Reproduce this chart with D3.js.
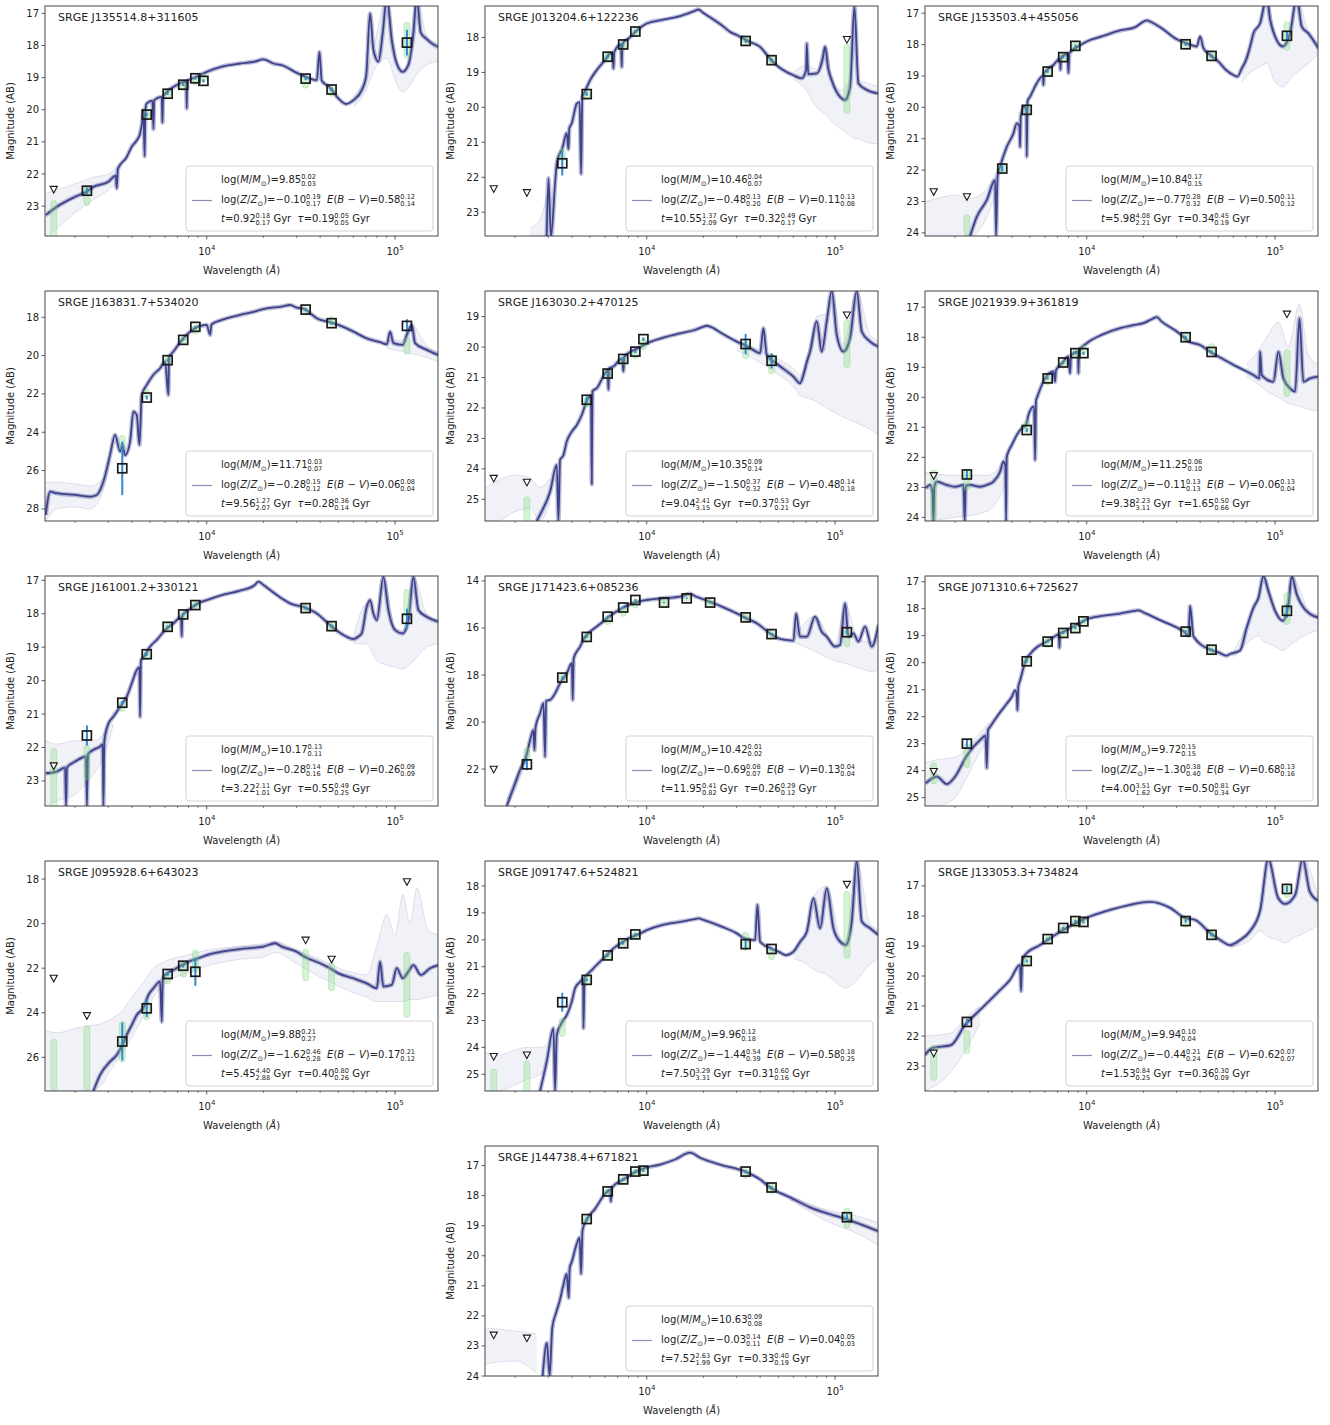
<!DOCTYPE html>
<html><head><meta charset="utf-8">
<script src="https://cdn.jsdelivr.net/npm/d3@7"></script>
<style>
body{margin:0;background:#fff;}
svg text{font-family:"DejaVu Sans",sans-serif;fill:#222;}
</style></head><body>
<svg id="fig" width="1330" height="1425"></svg>
<script>
// ---- source names, axis limits, tick sets ----
const objectNames = ["SRGE J135514.8+311605","SRGE J013204.6+122236","SRGE J153503.4+455056",
  "SRGE J163831.7+534020","SRGE J163030.2+470125","SRGE J021939.9+361819",
  "SRGE J161001.2+330121","SRGE J171423.6+085236","SRGE J071310.6+725627",
  "SRGE J095928.6+643023","SRGE J091747.6+524821","SRGE J133053.3+734824","SRGE J144738.4+671821"];
const wavelengthRange = [1384, 169000];
const yDomains = [[16.77,23.93],[17.1,23.68],[16.77,24.1],[16.63,28.63],[18.16,25.71],[16.46,24.12],
  [16.87,23.75],[13.79,23.57],[16.79,25.31],[17.19,27.51],[17.07,25.62],[16.17,23.83],[16.35,24.0]];
const yTickSets = [[17,18,19,20,21,22,23],[18,19,20,21,22,23],[17,18,19,20,21,22,23,24],
  [18,20,22,24,26,28],[19,20,21,22,23,24,25],[17,18,19,20,21,22,23,24],[17,18,19,20,21,22,23],
  [14,16,18,20,22],[17,18,19,20,21,22,23,24,25],[18,20,22,24,26],[18,19,20,21,22,23,24,25],
  [17,18,19,20,21,22,23],[17,18,19,20,21,22,23,24]];
const xMajorTicks = [1e4, 1e5];
const xMinorTicks = [2e3,3e3,4e3,5e3,6e3,7e3,8e3,9e3,2e4,3e4,4e4,5e4,6e4,7e4,8e4,9e4];

// ---- best-fit parameters: [median, +err, -err] ----
const massFits = [[9.85,0.02,0.03],[10.46,0.04,0.07],[10.84,0.17,0.15],[11.71,0.03,0.07],[10.35,0.09,0.14],[11.25,0.06,0.10],[10.17,0.13,0.11],[10.42,0.01,0.02],[9.72,0.15,0.15],[9.88,0.21,0.27],[9.96,0.12,0.18],[9.94,0.10,0.04],[10.63,0.09,0.08]];
const metalFits = [[-0.10,0.19,0.17],[-0.48,0.13,0.20],[-0.77,0.28,0.32],[-0.28,0.15,0.12],[-1.50,0.37,0.32],[-0.11,0.13,0.13],[-0.28,0.14,0.16],[-0.69,0.08,0.07],[-1.30,0.38,0.40],[-1.62,0.46,0.28],[-1.44,0.54,0.39],[-0.44,0.21,0.24],[-0.03,0.14,0.11]];
const ebvFits = [[0.58,0.12,0.14],[0.11,0.13,0.08],[0.50,0.11,0.12],[0.06,0.08,0.04],[0.48,0.14,0.18],[0.06,0.13,0.04],[0.26,0.09,0.09],[0.13,0.04,0.04],[0.68,0.13,0.16],[0.17,0.21,0.12],[0.58,0.18,0.25],[0.62,0.07,0.07],[0.04,0.05,0.03]];
const ageFits = [[0.92,0.18,0.17],[10.55,1.37,2.09],[5.98,4.08,2.21],[9.56,1.27,2.07],[9.04,2.41,3.15],[9.38,2.23,3.11],[3.22,2.11,1.01],[11.95,0.41,0.82],[4.00,3.51,1.62],[5.45,4.40,2.88],[7.50,3.29,3.31],[1.53,0.84,0.25],[7.52,2.63,1.99]];
const tauFits = [[0.19,0.05,0.05],[0.32,0.49,0.17],[0.34,0.45,0.19],[0.28,0.36,0.14],[0.37,0.53,0.21],[1.65,0.50,0.66],[0.55,0.49,0.25],[0.26,0.29,0.12],[0.50,0.81,0.34],[0.40,0.80,0.26],[0.31,0.60,0.16],[0.36,0.30,0.09],[0.33,0.40,0.19]];

// ---- median model spectra: [wavelength (Å), AB mag] ----
const spec01 = [[1397,23.28],[1598,23.02],[2000,22.71],[2287,22.56],[2502,22.40],[3005,22.24],[3194,22.09],[3290,22.05],[3328,22.45],[3370,21.85],[3760,21.47],[3997,21.15],[4250,20.95],[4426,20.74],[4560,20.3],[4610,20.01],[4680,21.45],[4720,20.0],[4803,19.80],[5150,19.72],[5211,20.6],[5260,19.7],[5770,19.6],[5817,20.4],[5870,19.58],[6008,19.50],[6929,19.23],[7780,19.12],[7831,19.96],[7880,19.1],[7992,19.08],[8995,18.95],[10000,18.82],[12012,18.66],[15031,18.56],[17984,18.50],[19999,18.43],[22590,18.56],[25020,18.61],[30060,18.85],[34960,19.02],[38380,19.08],[39650,18.2],[40800,19.1],[44990,19.30],[50020,19.65],[54940,19.82],[60090,19.70],[66530,19.39],[70150,18.97],[73670,17.0],[76740,18.14],[81560,18.5],[86000,17.6],[90320,16.5],[96010,17.83],[102060,18.56],[109830,18.82],[117700,18.6],[125100,17.62],[130300,16.5],[136900,17.6],[147300,17.8],[159800,17.97],[169900,18.04]];
const spec02 = [[2944,23.7],[3005,22.03],[3100,23.7],[3261,22.17],[3328,21.6],[3466,21.3],[3537,21.22],[3760,20.74],[3838,21.2],[3880,20.6],[3997,20.46],[4250,19.89],[4400,19.85],[4481,21.9],[4550,19.7],[4648,19.60],[5002,19.22],[5428,18.93],[6008,18.65],[6389,18.46],[6600,18.5],[6653,18.89],[6720,18.42],[7300,18.2],[7367,18.84],[7420,18.17],[7992,18.03],[8995,17.77],[10000,17.60],[12012,17.50],[15031,17.39],[17984,17.24],[18807,17.20],[19999,17.30],[25020,17.65],[27700,17.84],[30060,17.93],[34960,18.12],[39980,18.27],[44990,18.60],[50020,18.84],[54940,18.98],[60090,19.08],[66530,19.17],[70150,18.93],[70730,18.17],[72000,19.05],[79930,19.03],[86000,18.6],[88490,18.27],[92000,18.9],[96010,19.23],[106300,19.70],[112999,19.79],[120100,19.41],[126700,17.12],[133000,19.31],[147300,19.50],[169900,19.60]];
const spec03 = [[2402,24.1],[2606,23.49],[2944,22.96],[3261,22.32],[3300,24.1],[3360,22.2],[3466,21.89],[3760,21.26],[4080,20.83],[4250,20.51],[4390,20.6],[4426,21.26],[4460,20.3],[4648,19.98],[4780,20.1],[4803,21.57],[4850,19.8],[5002,19.66],[5428,19.23],[5850,19.0],[5889,19.29],[5930,18.9],[6008,18.86],[6653,18.65],[7218,18.45],[7250,18.8],[7300,18.42],[7396,18.38],[7900,18.3],[7992,18.91],[8080,18.28],[8995,18.06],[10000,17.90],[12012,17.74],[15031,17.55],[17984,17.45],[19999,17.27],[20830,17.23],[22590,17.32],[25020,17.48],[30060,17.83],[33970,17.96],[38380,18.06],[39980,17.74],[41640,18.11],[45180,18.33],[50020,18.54],[54940,18.81],[60090,18.97],[63100,19.02],[66530,18.76],[70150,18.49],[73670,18.06],[76740,17.64],[83240,17.32],[90320,16.5],[94080,17.2],[100000,17.74],[109830,18.06],[120100,17.64],[130300,16.5],[138600,17.43],[150300,17.64],[169900,18.12]];
const spec04 = [[1397,28.31],[1473,27.1],[1598,27.18],[2000,27.27],[2402,27.36],[2606,27.27],[2827,26.57],[3067,25.18],[3261,24.14],[3466,25.0],[3566,24.66],[3685,25.2],[3916,24.49],[4080,22.92],[4250,23.1],[4391,24.66],[4518,22.05],[4803,21.53],[5211,21.0],[5653,20.66],[6008,20.31],[6257,22.05],[6300,20.1],[6653,19.79],[7396,19.18],[7992,18.83],[8995,18.49],[10000,18.40],[10416,18.92],[10600,18.38],[12012,18.14],[15031,17.88],[17984,17.70],[19999,17.57],[25020,17.44],[27700,17.36],[30060,17.50],[33010,17.57],[35390,17.79],[38380,18.05],[45180,18.26],[50020,18.40],[60090,18.75],[70730,19.10],[83240,19.30],[90320,19.41],[94080,18.75],[97990,19.35],[109830,19.44],[115300,18.92],[122600,18.40],[127700,19.35],[147300,19.70],[169900,19.97]];
const spec05 = [[2606,25.71],[2714,25.5],[3067,24.75],[3328,23.87],[3396,25.71],[3466,23.7],[3610,23.55],[3760,23.1],[3997,22.78],[4250,22.56],[4518,22.23],[4823,21.74],[5060,21.6],[5105,24.5],[5150,21.45],[5428,21.35],[6008,20.86],[6200,20.75],[6257,21.4],[6310,20.7],[6653,20.64],[7400,20.37],[7518,20.8],[7600,20.32],[7992,20.2],[8995,20.04],[10000,19.88],[12012,19.71],[15031,19.55],[17984,19.44],[19999,19.33],[20830,19.30],[22590,19.38],[25020,19.55],[30060,19.82],[33010,19.93],[36840,20.10],[39980,20.20],[41640,19.38],[43370,20.25],[50020,20.59],[60090,20.97],[65190,21.19],[67900,20.92],[70730,20.5],[73670,20.15],[79930,19.16],[84950,20.15],[90320,19.16],[96010,18.16],[102060,19.6],[110720,20.15],[120100,19.7],[130300,18.16],[138600,19.49],[153400,19.82],[169900,19.99]];
const spec06 = [[1397,23.03],[1473,22.92],[1520,23.2],[1534,24.12],[1550,23.0],[1598,22.81],[1806,22.92],[2000,22.98],[2214,22.92],[2250,24.12],[2275,22.95],[2402,22.92],[2714,22.98],[2944,22.92],[3194,22.81],[3466,22.48],[3610,22.14],[3700,22.3],[3730,24.12],[3760,22.0],[3838,21.81],[3997,21.59],[4250,21.26],[4518,21.03],[4764,20.92],[4902,20.59],[5250,20.3],[5318,22.09],[5380,20.1],[5428,20.03],[6008,19.37],[6653,19.14],[6790,19.48],[6860,19.1],[7396,18.87],[7992,18.64],[8156,19.2],[8250,18.6],[8995,18.48],[9032,19.2],[9100,18.45],[10000,18.20],[12012,17.92],[15031,17.70],[17984,17.59],[19999,17.53],[22590,17.37],[23530,17.33],[25020,17.48],[30060,17.81],[32740,18.00],[34670,18.14],[39980,18.26],[45180,18.48],[50020,18.64],[60090,18.92],[70730,19.14],[76740,19.26],[82560,19.37],[83240,18.48],[84950,19.26],[97990,19.48],[104160,18.48],[110720,19.37],[120100,19.70],[127700,19.81],[134700,17.37],[141400,19.48],[153400,19.37],[169900,19.31]];
const spec07 = [[1397,22.77],[1598,22.72],[1769,22.6],[1790,23.75],[1810,22.6],[2000,22.42],[2287,22.27],[2310,23.75],[2340,22.2],[2502,22.07],[2714,21.97],[2800,21.9],[2827,23.75],[2860,21.8],[3005,21.28],[3194,21.08],[3466,20.78],[3760,20.48],[3997,20.08],[4250,19.68],[4390,19.6],[4426,21.08],[4470,19.4],[4648,19.28],[5002,18.98],[5428,18.78],[6008,18.49],[6653,18.29],[7300,18.1],[7367,18.68],[7420,18.05],[7992,17.89],[8995,17.69],[10000,17.59],[12012,17.44],[15031,17.31],[17984,17.14],[18807,17.04],[19999,17.14],[25020,17.54],[27700,17.69],[33010,17.81],[38380,17.99],[45180,18.34],[50020,18.54],[54940,18.68],[60090,18.76],[63870,18.68],[66530,18.58],[70730,17.79],[73670,17.59],[76740,17.99],[79930,18.19],[86710,16.9],[92170,17.89],[100000,18.49],[109830,18.59],[117700,18.19],[125100,16.9],[133000,17.89],[147300,18.09],[169900,18.24]];
const spec08 = [[1806,23.57],[1881,23.18],[2000,22.61],[2125,22.04],[2287,21.48],[2402,20.77],[2502,20.34],[2533,21.2],[2570,20.2],[2714,19.63],[2827,19.2],[2885,21.48],[2920,19.1],[3067,19.06],[3261,18.78],[3466,18.35],[3760,17.93],[4000,17.5],[4046,19.06],[4090,17.3],[4426,16.79],[4648,16.44],[5002,16.16],[5428,15.94],[6008,15.66],[6653,15.38],[7396,15.16],[7992,15.02],[8995,14.88],[10000,14.81],[12012,14.74],[15031,14.67],[16987,14.55],[17984,14.64],[19999,14.78],[25020,15.09],[30060,15.38],[33010,15.55],[38380,15.80],[45180,16.23],[50020,16.44],[54940,16.51],[60090,16.54],[62080,15.38],[65190,16.37],[70730,16.37],[78310,15.52],[84950,16.16],[90320,16.37],[100000,16.79],[106300,16.72],[112999,14.95],[117700,16.37],[125100,16.23],[133000,16.58],[144300,15.94],[156600,16.79],[169900,15.87]];
const spec09 = [[1397,24.47],[1598,24.22],[1806,24.5],[2000,24.22],[2287,23.49],[2502,23.12],[2714,22.87],[2900,22.7],[2944,23.9],[2990,22.5],[3067,22.38],[3328,22.01],[3760,21.52],[3997,21.27],[4164,21.03],[4250,21.2],[4285,21.77],[4330,20.9],[4426,20.66],[4744,19.92],[5002,19.68],[5428,19.43],[6008,19.25],[6653,19.06],[7100,18.95],[7159,19.45],[7220,18.9],[7396,18.88],[7992,18.76],[8995,18.57],[10000,18.39],[12012,18.27],[15031,18.18],[17984,18.08],[18807,18.06],[19999,18.14],[25020,18.45],[30060,18.70],[32740,18.85],[34670,19.00],[35390,17.90],[36840,19.02],[45180,19.52],[50020,19.62],[54940,19.74],[57700,19.68],[65190,19.55],[70730,18.70],[76740,17.96],[81560,17.6],[86710,16.8],[92170,17.35],[100000,18.08],[109830,18.45],[117700,17.85],[122600,16.8],[130300,17.47],[141400,17.96],[153400,18.2],[169900,18.33]];
const spec10 = [[2502,27.51],[2714,26.79],[3067,26.19],[3328,25.89],[3566,25.44],[3760,24.99],[3997,24.55],[4250,24.10],[4648,23.72],[4902,23.20],[5211,22.90],[5653,22.60],[5770,24.4],[5840,22.5],[6008,22.30],[6653,22.08],[7396,21.86],[7992,21.71],[8995,21.56],[10000,21.41],[12012,21.26],[15031,21.14],[17984,21.08],[19999,21.03],[23070,20.88],[25020,21.03],[30060,21.26],[33010,21.48],[39980,21.78],[45180,22.00],[50020,22.23],[60090,22.45],[70730,22.68],[79930,22.90],[83240,21.71],[86710,22.82],[96010,22.75],[102060,22.0],[109830,22.45],[117700,22.15],[125100,21.86],[136900,22.3],[153400,22.0],[169900,21.86]];
const spec11 = [[2714,25.62],[2944,24.53],[3194,23.29],[3261,25.62],[3328,23.54],[3566,23.04],[3760,22.80],[3997,22.30],[4164,21.80],[4426,21.56],[4600,21.45],[4610,23.29],[4680,21.4],[4803,21.31],[5211,21.06],[5653,20.81],[6008,20.63],[6653,20.32],[7396,20.09],[7992,19.95],[8995,19.80],[10000,19.64],[12012,19.45],[15031,19.33],[17984,19.23],[18807,19.20],[19999,19.26],[25020,19.51],[30060,19.76],[33010,19.95],[37600,20.01],[38690,18.70],[39980,20.07],[45730,20.32],[50020,20.44],[54940,20.57],[60090,20.44],[65190,20.07],[70730,19.70],[76740,18.46],[83240,19.57],[90320,18.09],[97990,19.57],[106300,20.07],[113900,20.19],[122600,19.32],[130300,17.07],[138600,19.32],[153400,19.57],[169900,19.82]];
const spec12 = [[1384,22.63],[1507,22.4],[1900,22.3],[2260,21.63],[2712,21.13],[3464,20.47],[3914,20.13],[4423,19.63],[4480,20.5],[4533,19.6],[4700,19.30],[5646,18.97],[7485,18.47],[9915,18.07],[13300,17.80],[16990,17.63],[21700,17.53],[27700,17.73],[33300,18.07],[37600,18.13],[45200,18.57],[51100,18.80],[57700,18.97],[65300,18.8],[73800,18.5],[83400,17.8],[92000,16.1],[103800,17.4],[113200,17.6],[127900,17.3],[140000,16.1],[153000,17.2],[169500,17.5]];
const spec13 = [[2800,24.0],[2950,22.9],[3050,24.0],[3150,22.4],[3300,21.9],[3450,21.5],[3600,21.0],[3760,20.6],[3850,21.4],[3900,20.4],[4000,20.2],[4250,19.6],[4400,19.4],[4480,20.6],[4560,19.15],[4800,18.8],[5300,18.45],[6083,17.9],[6400,17.8],[6450,18.2],[6500,17.75],[7580,17.45],[8673,17.22],[9915,17.07],[11770,16.97],[14130,16.80],[16990,16.57],[19190,16.74],[24500,16.97],[33270,17.20],[39970,17.46],[45180,17.73],[57690,18.06],[73670,18.39],[94060,18.62],[114300,18.78],[135700,18.95],[169000,19.18]];

// ---- spread of posterior model draws: [wavelength, brightest mag, faintest mag]; null splits ----
const band01 = [[1397,22.6,23.93],[1598,22.5,23.7],[2000,22.3,23.2],[2502,22.1,22.8],[3005,22.0,22.5],[3400,21.7,22.2],null,[60090,19.6,19.9],[70150,18.9,19.4],[76740,18.1,18.8],[90320,16.5,18.4],[102060,18.5,19.2],[109830,18.75,19.45],[117700,18.5,19.3],[130300,16.5,18.9],[147300,17.7,18.6],[169900,17.95,18.5]];
const band02 = [[2402,23.45,23.68],[2714,23.2,23.68],[2944,22.5,23.68],null,[60090,19.0,19.2],[70150,18.8,19.5],[79930,18.9,20.0],[88490,18.2,20.2],[96010,19.1,20.4],[106300,19.5,20.6],[120100,19.2,20.8],[126700,17.12,20.9],[133000,19.2,20.9],[147300,19.3,21.0],[169900,19.4,21.05]];
const band03 = [[1397,23.0,24.1],[1598,22.9,24.1],[2000,22.8,24.1],[2402,22.9,24.1],[2944,22.6,23.5],[3300,22.1,22.7],null,[66530,18.7,19.2],[73670,18.0,18.9],[83240,17.3,18.7],[90320,16.5,18.6],[100000,17.7,19.2],[109830,18.0,19.35],[120100,17.6,19.1],[130300,16.5,18.9],[150300,17.6,18.6],[169900,18.0,18.3]];
const band04 = [[1397,26.6,28.63],[1598,26.6,28.0],[2000,26.7,27.9],[2402,26.8,28.0],[2827,26.4,27.0],[3067,25.0,25.5],null,[90320,19.2,19.6],[109830,19.2,19.8],[122600,18.4,19.9],[147300,19.5,20.1],[169900,19.8,20.35]];
const band05 = [[1397,24.6,25.71],[1598,24.4,25.71],[2000,24.2,25.4],[2402,24.3,25.3],[2714,24.6,25.71],[3067,24.3,25.1],null,[30060,19.8,20.1],[50020,20.4,20.9],[60090,20.7,21.3],[65190,20.9,21.6],[73670,19.9,21.7],[79930,19.0,21.8],[90320,18.9,22.0],[96010,18.16,22.1],[110720,19.9,22.3],[130300,18.16,22.5],[153400,19.6,22.7],[169900,19.8,22.9]];
const band06 = [[1397,22.5,24.12],[2000,22.6,24.0],[2944,22.6,23.8],[3466,22.3,23.3],[3760,21.8,22.8],null,[70730,18.9,19.3],[82560,18.4,19.6],[90320,18.0,19.8],[104160,17.5,20.0],[117700,18.3,20.2],[134700,16.9,20.3],[150300,18.6,20.4],[169900,18.9,20.45]];
const band07 = [[1397,21.8,23.75],[1598,21.9,23.6],[2000,21.8,23.4],[2502,21.8,22.8],[2827,21.6,22.3],[3194,20.9,21.3],null,[60090,18.7,18.9],[70730,17.7,18.9],[79930,18.1,19.4],[86710,16.9,19.5],[100000,18.4,19.6],[109830,18.5,19.65],[125100,16.9,19.4],[147300,18.0,19.0],[169900,18.2,18.9]];
const band08 = [[1806,23.3,23.57],[2000,22.4,22.9],[2287,21.3,21.7],null,[60090,16.5,16.6],[78310,15.5,17.0],[100000,16.7,17.4],[112999,15.0,17.5],[133000,16.5,17.7],[156600,16.6,17.85],[169900,15.87,17.8]];
const band09 = [[1397,23.7,25.31],[1598,23.6,25.31],[2000,23.5,25.0],[2287,23.2,24.3],[2714,22.6,23.3],[3067,22.2,22.7],null,[60090,19.6,19.8],[70730,18.6,19.3],[81560,17.5,19.0],[86710,16.8,19.2],[100000,18.0,19.4],[109830,18.4,19.55],[122600,16.8,19.3],[153400,18.1,18.9],[169900,18.2,18.8]];
const band10 = [[1397,24.8,27.51],[1598,24.9,27.51],[2000,24.7,27.51],[2287,24.6,27.51],[2714,24.5,27.3],[3067,24.3,26.6],[3566,23.9,25.8],[3997,23.3,25.1],[4648,22.6,24.1],[5211,22.0,23.3],[6008,21.7,22.7],[7992,21.4,22.2],[10000,21.2,21.9],[15031,21.0,21.6],[19999,20.9,21.5],[23070,20.8,21.3],[30060,21.2,21.8],[39980,21.6,22.4],[50020,22.0,22.8],[60090,22.2,23.1],[70730,22.3,23.3],[79930,21.0,23.5],[90320,19.6,23.5],[100000,20.5,23.5],[109830,18.7,23.5],[120100,20.0,23.4],[130300,18.4,23.4],[150300,20.3,23.3],[169900,20.5,23.2]];
const band11 = [[1397,24.2,25.62],[1598,24.3,25.62],[2000,24.1,25.4],[2287,24.0,25.2],[2714,24.0,25.0],[2944,23.9,24.7],null,[60090,20.4,20.7],[70730,19.6,20.9],[76740,18.4,21.1],[90320,18.0,21.3],[106300,19.9,21.7],[113900,20.1,21.8],[130300,17.07,21.5],[153400,19.4,20.9],[169900,19.6,20.7]];
const band12 = [[1384,22.0,23.83],[1900,21.9,23.2],[2260,21.4,22.5],[2712,21.0,21.6],null,[57700,18.9,19.05],[73800,18.4,18.8],[83400,17.7,18.5],[92000,16.1,18.7],[103800,17.3,18.8],[113200,17.5,18.9],[127900,17.2,18.7],[140000,16.1,18.6],[169500,17.4,18.3]];
const band13 = [[1384,22.4,23.6],[2000,22.5,23.5],[2600,22.6,23.9],null,[57690,18.0,18.15],[94060,18.5,18.9],[135700,18.7,19.3],[169000,18.9,19.65]];

// ---- photometry: [wavelength, mag, error, upper limit?, model mag low, model mag high] ----
const phot01 = [[1540,22.48,0,1,22.9,23.93],[2310,22.52,0.1,0,22.45,22.9],[4800,20.15,0.05,0,20.1,20.2],[6200,19.5,0.04,0,19.45,19.55],[7500,19.22,0.04,0,19.2,19.32],[8700,19.02,0.04,0,19.05,19.15],[9600,19.1,0.05,0,18.95,19.05],[33500,19.03,0.05,0,19.05,19.25],[46000,19.37,0.05,0,19.35,19.5],[115600,17.91,0.4,0,17.35,18.3]];
const phot02 = [[1540,22.33,0,1,null,null],[2310,22.44,0,1,null,null],[3560,21.6,0.35,0,21.25,21.45],[4800,19.62,0.05,0,19.6,19.7],[6200,18.55,0.04,0,18.5,18.65],[7500,18.2,0.04,0,18.2,18.3],[8700,17.83,0.04,0,17.8,17.9],[33500,18.1,0.05,0,18.05,18.15],[46000,18.65,0.05,0,18.6,18.7],[115600,18.06,0,1,18.27,20.1]];
const phot03 = [[1540,22.69,0,1,null,null],[2310,22.85,0,1,23.5,24.0],[3560,21.95,0.1,0,21.85,22.0],[4800,20.08,0.05,0,20.05,20.15],[6200,18.86,0.04,0,18.85,18.95],[7500,18.4,0.04,0,18.35,18.45],[8700,18.04,0.04,0,18.0,18.1],[33500,17.99,0.05,0,17.95,18.05],[46000,18.36,0.05,0,18.3,18.45],[115600,17.72,0.15,0,17.35,18.1]];
const phot04 = [[3560,25.88,1.4,0,24.3,24.8],[4800,22.19,0.1,0,21.9,22.05],[6200,20.24,0.05,0,20.2,20.3],[7500,19.18,0.04,0,19.15,19.25],[8700,18.5,0.04,0,18.55,18.75],[33500,17.6,0.05,0,17.6,17.75],[46000,18.31,0.05,0,18.1,18.3],[115600,18.45,0.35,0,19.2,19.8]];
const phot05 = [[1540,24.31,0,1,null,null],[2310,24.44,0,1,25.0,25.71],[4800,21.73,0.1,0,21.75,21.9],[6200,20.87,0.05,0,20.85,20.95],[7500,20.39,0.05,0,20.4,20.5],[8700,20.15,0.05,0,20.2,20.3],[9600,19.74,0.06,0,19.8,20.0],[33500,19.9,0.33,0,19.9,20.3],[46000,20.45,0.25,0,20.3,20.8],[115600,18.95,0,1,19.2,20.6]];
const phot06 = [[1540,22.61,0,1,22.5,24.0],[2310,22.57,0.15,0,22.5,23.0],[4800,21.09,0.06,0,20.85,21.1],[6200,19.37,0.04,0,19.35,19.5],[7500,18.84,0.04,0,18.85,18.95],[8700,18.53,0.04,0,18.5,18.6],[9600,18.53,0.05,0,18.35,18.5],[33500,18.0,0.05,0,17.95,18.05],[46000,18.49,0.05,0,18.3,18.5],[115600,17.23,0,1,18.5,19.9]];
const phot07 = [[1540,22.55,0,1,22.1,23.7],[2310,21.64,0.3,0,22.0,22.9],[3560,20.66,0.05,0,20.7,20.85],[4800,19.21,0.05,0,19.2,19.3],[6200,18.39,0.04,0,18.35,18.45],[7500,18.02,0.04,0,18.0,18.1],[8700,17.74,0.04,0,17.7,17.8],[33500,17.83,0.05,0,17.8,17.9],[46000,18.37,0.05,0,18.35,18.45],[115600,18.15,0.3,0,17.35,18.0]];
const phot08 = [[1540,22.01,0,1,null,null],[2310,21.8,0.25,0,21.2,21.5],[3560,18.11,0.05,0,18.05,18.2],[4800,16.38,0.04,0,16.35,16.5],[6200,15.52,0.04,0,15.6,15.75],[7500,15.13,0.04,0,15.25,15.4],[8700,14.81,0.04,0,14.9,15.05],[12350,14.92,0.03,0,14.9,15.0],[16300,14.74,0.03,0,14.6,14.75],[21700,14.92,0.03,0,14.9,15.0],[33500,15.55,0.03,0,15.5,15.6],[46000,16.26,0.04,0,16.2,16.3],[115600,16.18,0.06,0,16.2,16.7]];
const phot09 = [[1540,24.03,0,1,23.8,24.4],[2310,23.0,0.15,0,23.1,23.8],[4800,19.95,0.05,0,19.9,20.0],[6200,19.22,0.04,0,19.2,19.35],[7500,18.9,0.04,0,18.85,18.95],[8700,18.72,0.04,0,18.7,18.8],[9600,18.47,0.05,0,18.45,18.55],[33500,18.85,0.05,0,18.8,18.95],[46000,19.52,0.05,0,19.45,19.6],[115600,18.08,0.25,0,17.5,18.5]];
const phot10 = [[1540,22.45,0,1,25.3,27.4],[2310,24.13,0,1,24.7,27.4],[3560,25.29,0.85,0,24.5,26.1],[4800,23.8,0.4,0,23.6,24.2],[6200,22.26,0.08,0,22.3,22.6],[7500,21.89,0.08,0,21.8,22.3],[8700,22.16,0.63,0,21.3,22.1],[33500,20.74,0,1,21.26,22.45],[46000,21.6,0,1,21.86,22.9],[115600,18.12,0,1,21.4,24.1]];
const phot11 = [[1540,24.34,0,1,24.9,25.62],[2310,24.28,0,1,24.6,25.62],[3560,22.32,0.35,0,23.0,23.5],[4800,21.49,0.05,0,21.45,21.55],[6200,20.58,0.05,0,20.55,20.65],[7500,20.13,0.05,0,20.1,20.2],[8700,19.8,0.05,0,19.8,19.9],[33500,20.16,0.2,0,19.8,20.3],[46000,20.34,0.05,0,20.4,20.65],[115600,17.94,0,1,18.3,20.6]];
const phot12 = [[1540,22.57,0,1,22.4,23.4],[2310,21.53,0.1,0,21.9,22.5],[4800,19.5,0.05,0,19.45,19.55],[6200,18.77,0.04,0,18.75,18.85],[7500,18.4,0.04,0,18.4,18.5],[8700,18.17,0.04,0,18.15,18.3],[9600,18.2,0.05,0,18.1,18.2],[33500,18.17,0.05,0,18.15,18.3],[46000,18.63,0.05,0,18.6,18.7],[115600,17.1,0.1,0,17.0,17.3]];
const phot13 = [[1540,22.64,0,1,null,null],[2310,22.74,0,1,null,null],[4800,18.78,0.05,0,18.75,18.85],[6200,17.86,0.04,0,17.85,17.95],[7500,17.46,0.04,0,17.45,17.55],[8700,17.2,0.04,0,17.2,17.3],[9600,17.17,0.04,0,17.15,17.25],[33500,17.2,0.04,0,17.2,17.35],[46000,17.73,0.04,0,17.7,17.85],[115600,18.72,0.1,0,18.5,19.0]];

const spectra = [spec01,spec02,spec03,spec04,spec05,spec06,spec07,spec08,spec09,spec10,spec11,spec12,spec13];
const bands = [band01,band02,band03,band04,band05,band06,band07,band08,band09,band10,band11,band12,band13];
const photometry = [phot01,phot02,phot03,phot04,phot05,phot06,phot07,phot08,phot09,phot10,phot11,phot12,phot13];

// ---- layout ----
const plotW = 393, plotH = 230;
const colX = [45, 485, 925];
const rowY = [6, 291, 576, 861, 1146];
const cells = [[0,0],[0,1],[0,2],[1,0],[1,1],[1,2],[2,0],[2,1],[2,2],[3,0],[3,1],[3,2],[4,1]];

const modelColor = "#3d428b";
const errColor = "#2f8ad4";
const greenColor = "#7ad676";

const svg = d3.select("#fig");
const x = d3.scaleLog().domain(wavelengthRange).range([0, plotW]);

const fmt = v => v.toFixed(2).replace("-", "\u2212");

function richLine(g, x0, y0, segs, fs) {
  let cx = x0;
  segs.forEach(s => {
    if (s.stack) {
      const a = g.append("text").attr("x", cx).attr("y", y0 - 3.6).attr("font-size", 6.6).text(s.stack[0]);
      const b = g.append("text").attr("x", cx).attr("y", y0 + 2.6).attr("font-size", 6.6).text(s.stack[1]);
      cx += Math.max(a.node().getComputedTextLength(), b.node().getComputedTextLength());
    } else {
      const t = g.append("text").attr("x", cx)
        .attr("y", s.sub ? y0 + 2.5 : y0)
        .attr("font-size", s.sub ? 7 : fs)
        .attr("font-style", s.it ? "italic" : null)
        .style("white-space", "pre").text(s.t);
      cx += t.node().getComputedTextLength();
    }
  });
}

cells.forEach(([r, c], i) => {
  const px = colX[c], py = rowY[r];
  const g = svg.append("g").attr("transform", `translate(${px},${py})`);
  const y = d3.scaleLinear().domain(yDomains[i]).range([0, plotH]);

  const clipId = "clip" + i;
  g.append("clipPath").attr("id", clipId).append("rect").attr("width", plotW).attr("height", plotH);
  const body = g.append("g").attr("clip-path", `url(#${clipId})`);

  // spread of posterior draws
  const band = bands[i];
  const area = d3.area().defined(d => d !== null).curve(d3.curveMonotoneX)
    .x(d => x(d[0])).y0(d => y(d[1])).y1(d => y(d[2]));
  body.append("path").datum(band).attr("d", area).attr("fill", modelColor).attr("fill-opacity", 0.07);
  [1, 2].forEach(k => {
    const edge = d3.line().defined(d => d !== null).curve(d3.curveMonotoneX).x(d => x(d[0])).y(d => y(d[k]));
    body.append("path").datum(band).attr("d", edge).attr("fill", "none")
      .attr("stroke", modelColor).attr("stroke-opacity", 0.18).attr("stroke-width", 0.8);
  });

  // median model spectrum
  const line = d3.line().curve(d3.curveMonotoneX).x(d => x(d[0])).y(d => y(d[1]));
  body.append("path").datum(spectra[i]).attr("d", line).attr("fill", "none")
    .attr("stroke", modelColor).attr("stroke-opacity", 0.35).attr("stroke-width", 4.5).attr("stroke-linejoin", "round");
  body.append("path").datum(spectra[i]).attr("d", line).attr("fill", "none")
    .attr("stroke", modelColor).attr("stroke-width", 1.8).attr("stroke-linejoin", "round");

  const phot = photometry[i];
  // model photometry of the draws
  phot.filter(d => d[4] !== null).forEach(d => {
    const y1 = y(d[4]), y2 = y(d[5]);
    body.append("rect").attr("x", x(d[0]) - 3).attr("y", Math.min(y1, y2) - 2.5)
      .attr("width", 6).attr("height", Math.abs(y2 - y1) + 5).attr("rx", 3)
      .attr("fill", greenColor).attr("fill-opacity", 0.3)
      .attr("stroke", greenColor).attr("stroke-opacity", 0.45).attr("stroke-width", 0.8);
  });
  // error bars
  phot.filter(d => !d[3] && d[2] > 0).forEach(d => {
    body.append("line").attr("x1", x(d[0])).attr("x2", x(d[0]))
      .attr("y1", y(d[1] - d[2])).attr("y2", y(d[1] + d[2]))
      .attr("stroke", errColor).attr("stroke-width", 2);
  });
  // detections
  phot.filter(d => !d[3]).forEach(d => {
    body.append("rect").attr("x", x(d[0]) - 4.5).attr("y", y(d[1]) - 4.5)
      .attr("width", 9).attr("height", 9).attr("fill", "none")
      .attr("stroke", "#1a1a1a").attr("stroke-width", 1.7);
  });
  // upper limits
  phot.filter(d => d[3]).forEach(d => {
    const cx = x(d[0]), cy = y(d[1]);
    body.append("path").attr("d", `M${cx-3.6},${cy-3} L${cx+3.6},${cy-3} L${cx},${cy+3.6} Z`)
      .attr("fill", "#fff").attr("stroke", "#1a1a1a").attr("stroke-width", 1.1);
  });

  // frame
  g.append("rect").attr("width", plotW).attr("height", plotH).attr("fill", "none")
    .attr("stroke", "#333").attr("stroke-width", 0.9);

  // y axis
  yTickSets[i].forEach(t => {
    const ty = y(t);
    g.append("line").attr("x1", -3.5).attr("x2", 0).attr("y1", ty).attr("y2", ty).attr("stroke", "#333").attr("stroke-width", 0.8);
    g.append("text").attr("x", -6).attr("y", ty).attr("dy", "0.35em").attr("text-anchor", "end")
      .attr("font-size", 10).text(t);
  });
  g.append("text").attr("transform", `translate(${-31},${plotH / 2}) rotate(-90)`)
    .attr("text-anchor", "middle").attr("font-size", 10).text("Magnitude (AB)");

  // x axis
  xMinorTicks.forEach(t => {
    g.append("line").attr("x1", x(t)).attr("x2", x(t)).attr("y1", plotH).attr("y2", plotH + 2)
      .attr("stroke", "#333").attr("stroke-width", 0.6);
  });
  xMajorTicks.forEach(t => {
    g.append("line").attr("x1", x(t)).attr("x2", x(t)).attr("y1", plotH).attr("y2", plotH + 3.5)
      .attr("stroke", "#333").attr("stroke-width", 0.8);
    const lab = g.append("text").attr("x", x(t)).attr("y", plotH + 18.5).attr("text-anchor", "middle").attr("font-size", 10);
    lab.append("tspan").text("10");
    lab.append("tspan").attr("dy", -5).attr("font-size", 7).text(String(Math.round(Math.log10(t))));
  });
  const xl = g.append("text").attr("x", plotW / 2).attr("y", plotH + 38).attr("text-anchor", "middle").attr("font-size", 10);
  xl.append("tspan").text("Wavelength (");
  xl.append("tspan").attr("font-style", "italic").text("\u00c5");
  xl.append("tspan").text(")");

  // title
  g.append("text").attr("x", 13).attr("y", 14.7).attr("font-size", 11).text(objectNames[i]);

  // legend
  const lg = g.append("g");
  lg.append("rect").attr("x", 141).attr("y", 160).attr("width", 247).attr("height", 65).attr("rx", 3)
    .attr("fill", "#fff").attr("fill-opacity", 0.8).attr("stroke", "#d4d4d4").attr("stroke-width", 1);
  lg.append("line").attr("x1", 147).attr("x2", 167).attr("y1", 194.5).attr("y2", 194.5)
    .attr("stroke", modelColor).attr("stroke-opacity", 0.6).attr("stroke-width", 1.2);
  const m = massFits[i], z = metalFits[i], e = ebvFits[i], a = ageFits[i], tau = tauFits[i];
  richLine(lg, 176, 177, [
    {t: "log("}, {t: "M", it: 1}, {t: "/"}, {t: "M", it: 1}, {t: "\u2299", sub: 1}, {t: ")=" + fmt(m[0])},
    {stack: [fmt(m[1]), fmt(m[2])]}
  ], 10);
  richLine(lg, 176, 197, [
    {t: "log("}, {t: "Z", it: 1}, {t: "/"}, {t: "Z", it: 1}, {t: "\u2299", sub: 1}, {t: ")=" + fmt(z[0])},
    {stack: [fmt(z[1]), fmt(z[2])]}, {t: "  "}, {t: "E", it: 1}, {t: "("}, {t: "B", it: 1}, {t: " \u2212 "},
    {t: "V", it: 1}, {t: ")=" + fmt(e[0])}, {stack: [fmt(e[1]), fmt(e[2])]}
  ], 10);
  richLine(lg, 176, 216, [
    {t: "t", it: 1}, {t: "=" + fmt(a[0])}, {stack: [fmt(a[1]), fmt(a[2])]}, {t: " Gyr  "},
    {t: "\u03c4", it: 1}, {t: "=" + fmt(tau[0])}, {stack: [fmt(tau[1]), fmt(tau[2])]}, {t: " Gyr"}
  ], 10);
});
</script>
</body></html>
